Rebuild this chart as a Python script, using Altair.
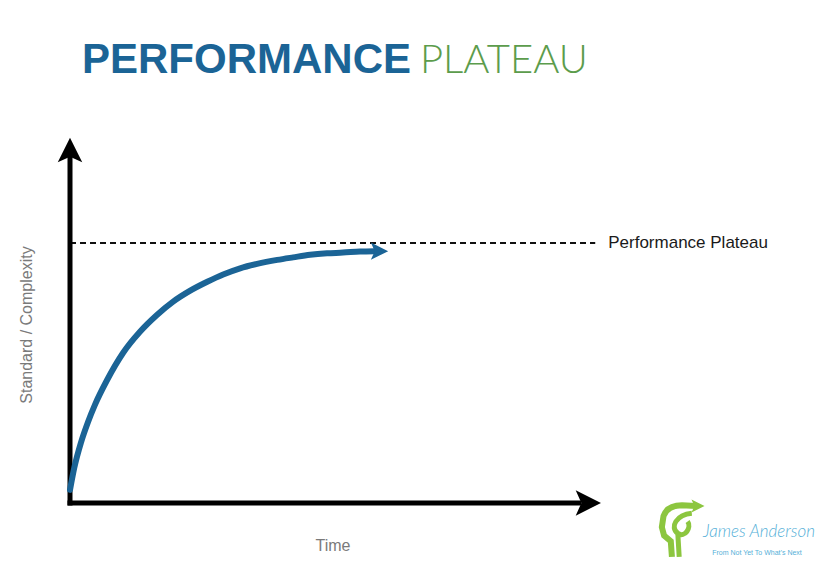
import altair as alt
import pandas as pd

# ---- data (Time 0-100, Standard/Complexity 0-100) ----
curve_time = [0, 0.8, 2.1, 3.4, 4.7, 7.0, 10.0, 13.2, 16.4, 19.4, 22.6, 25.9,
              28.9, 32.1, 35.3, 39.1, 42.1, 45.3, 48.5, 51.5, 54.7, 57.5]
curve_level = [3.6, 9.6, 16.7, 22.2, 26.9, 33.7, 41.1, 46.9, 51.5, 55.1, 58.1,
               60.6, 62.6, 64.3, 65.5, 66.6, 67.3, 68.0, 68.4, 68.6, 68.9, 69.0]
curve_head_time = [58.4]
curve_head_level = [69.0]

plateau_level = [71.2]
plateau_start = [0]
plateau_end = [99.1]
plateau_label = ["Performance Plateau"]

x_axis_end = [96.0]
x_axis_head = [97.8]
y_axis_end = [95.5]
y_axis_head = [96.7]

title_bold = ["PERFORMANCE"]
title_light = ["PLATEAU"]
x_title = ["Time"]
y_title = ["Standard / Complexity"]
logo_name = ["James Anderson"]
logo_tag = ["From Not Yet To What\u2019s Next"]

BLUE = "#1b6496"
GREEN = "#5c9c4c"
LOGO_GREEN = "#8cc63f"
LOGO_BLUE = "#55b0d8"

SX = alt.Scale(domain=[0, 100], nice=False, zero=False)
SY = alt.Scale(domain=[0, 100], nice=False, zero=False)


def ex(field):
    return alt.X(field, type="quantitative", scale=SX, axis=None)


def ey(field):
    return alt.Y(field, type="quantitative", scale=SY, axis=None)


ARROW_RIGHT = "M1,0L-1,-1L-0.55,0L-1,1Z"
ARROW_UP = "M0,-1L1,1L0,0.55L-1,1Z"

curve_df = pd.DataFrame({"t": curve_time, "v": curve_level})
curve = alt.Chart(curve_df).mark_line(
    color=BLUE, strokeWidth=6, interpolate="monotone", strokeCap="round"
).encode(x=ex("t"), y=ey("v"))

head_df = pd.DataFrame({"t": curve_head_time, "v": curve_head_level})
curve_head = alt.Chart(head_df).mark_point(
    shape=ARROW_RIGHT, filled=True, color=BLUE, size=300, opacity=1, strokeWidth=0
).encode(x=ex("t"), y=ey("v"))

plateau_df = pd.DataFrame({"x0": plateau_start, "x1": plateau_end,
                           "v": plateau_level, "label": plateau_label})
plateau = alt.Chart(plateau_df).mark_rule(
    color="#111111", strokeWidth=2, strokeDash=[6, 4]
).encode(x=ex("x0"), x2="x1:Q", y=ey("v"))
plateau_text = alt.Chart(plateau_df).mark_text(
    align="left", baseline="middle", dx=13, fontSize=17, color="#1a1a1a",
    font="Liberation Sans"
).encode(x=ex("x1"), y=ey("v"), text="label:N")

xaxis_df = pd.DataFrame({"x0": [0], "x1": x_axis_end, "v": [0], "h": x_axis_head})
x_axis = alt.Chart(xaxis_df).mark_rule(color="black", strokeWidth=5, strokeCap="square").encode(
    x=ex("x0"), x2="x1:Q", y=ey("v"))
x_head = alt.Chart(xaxis_df).mark_point(
    shape=ARROW_RIGHT, filled=True, color="black", size=640, opacity=1, strokeWidth=0
).encode(x=ex("h"), y=ey("v"))

yaxis_df = pd.DataFrame({"v0": [0], "v1": y_axis_end, "t": [0], "h": y_axis_head})
y_axis = alt.Chart(yaxis_df).mark_rule(color="black", strokeWidth=5, strokeCap="square").encode(
    y=ey("v0"), y2="v1:Q", x=ex("t"))
y_head = alt.Chart(yaxis_df).mark_point(
    shape=ARROW_UP, filled=True, color="black", size=600, opacity=1, strokeWidth=0
).encode(x=ex("t"), y=ey("h"))


def label(values, px, py, **kw):
    df = pd.DataFrame({"s": values})
    return alt.Chart(df).mark_text(**kw).encode(
        text="s:N", x=alt.value(px), y=alt.value(py))


t1 = label(title_bold, 12, -65, align="left", baseline="alphabetic",
           fontSize=42, fontWeight="bold", font="Liberation Sans", color=BLUE)
t2 = label(title_light, 350, -65, align="left", baseline="alphabetic",
           fontSize=40, fontWeight=300, font="Lato", color=GREEN)
xt = label(x_title, 263, 413, align="center", baseline="alphabetic",
           fontSize=16, font="Liberation Sans", color="#7a7a7a")
yt = label(y_title, -43, 187, align="center", baseline="middle", angle=270,
           fontSize=16, font="Liberation Sans", color="#7a7a7a")

# logo (decorative): head outline, inner swirl, arrow tip
logo_head_path = ("M-0.36,0.96 L-0.4,0.4 L-0.64,0.2 L-0.72,-0.1 L-0.66,-0.5 "
                  "C-0.55,-0.8 -0.3,-0.88 0.0,-0.88 L0.5,-0.86")
logo_swirl_path = ("M0.35,-0.6 C-0.2,-0.55 -0.45,-0.1 -0.15,0.12 "
                   "C0.1,0.3 0.35,-0.1 0.2,-0.3 M-0.15,0.12 L-0.1,0.96")
logo_df = pd.DataFrame({"s": ["icon"]})
logo_head = alt.Chart(logo_df).mark_point(
    shape=logo_head_path, filled=False, color=LOGO_GREEN, size=3136, opacity=1,
    strokeWidth=6
).encode(x=alt.value(612), y=alt.value(392))
logo_swirl = alt.Chart(logo_df).mark_point(
    shape=logo_swirl_path, filled=False, color=LOGO_GREEN, size=3136, opacity=1,
    strokeWidth=5
).encode(x=alt.value(612), y=alt.value(392))
logo_arrow = alt.Chart(logo_df).mark_point(
    shape=ARROW_RIGHT, filled=True, color=LOGO_GREEN, size=170, opacity=1,
    strokeWidth=0
).encode(x=alt.value(628), y=alt.value(368))
ln = label(logo_name, 689, 399, align="center", baseline="alphabetic",
           fontSize=17, font="Lato", fontStyle="italic", fontWeight=300,
           color=LOGO_BLUE)
lt = label(logo_tag, 687, 417, align="center", baseline="alphabetic",
           fontSize=7, font="Liberation Sans", color=LOGO_BLUE)

chart = alt.layer(
    plateau, x_axis, y_axis, x_head, y_head, curve, curve_head, plateau_text,
    t1, t2, xt, yt, logo_head, logo_swirl, logo_arrow, ln, lt
).properties(
    width=530, height=365,
    padding={"left": 62, "top": 130, "right": 232, "bottom": 71},
    autosize=alt.AutoSizeParams(type="none"),
    background="white",
).configure_view(stroke=None)

chart.save("out.html", embed_options={"renderer": "svg", "actions": False})
